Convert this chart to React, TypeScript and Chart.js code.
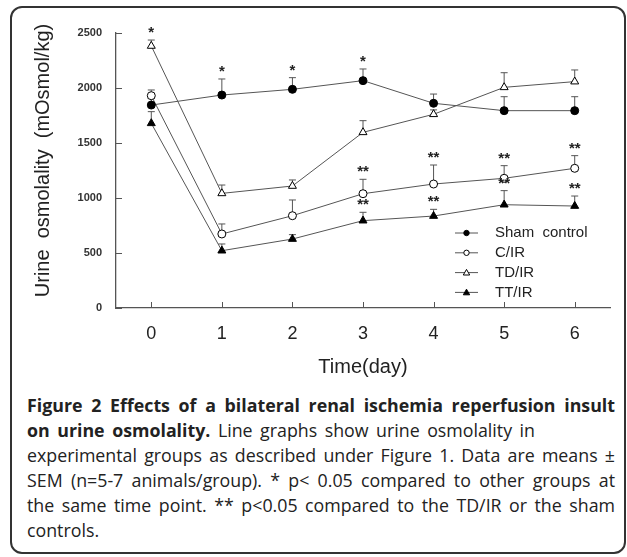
import React, { useEffect, useRef } from 'react';
import { Chart, registerables } from 'chart.js';
Chart.register(...registerables);

// ---- data ----
const days = [0, 1, 2, 3, 4, 5, 6];
const yTicks = [0, 500, 1000, 1500, 2000, 2500];
const seriesNames = ['Sham  control', 'C/IR', 'TD/IR', 'TT/IR'];
const shamMean = [1845, 1936, 1988, 2067, 1861, 1794, 1794];
const shamSem = [60, 146, 106, 106, 84, 127, 127];
const cirMean = [1930, 673, 839, 1039, 1127, 1179, 1270];
const cirSem = [52, 91, 143, 131, 173, 115, 115];
const tdirMean = [2382, 1042, 1109, 1597, 1761, 2006, 2058];
const tdirSem = [54, 76, 55, 106, 40, 133, 106];
const ttirMean = [1679, 521, 627, 794, 836, 939, 927];
const ttirSem = [106, 61, 40, 76, 61, 128, 91];
// significance marks: day, series index, mark
const starDays = [0, 1, 2, 3, 3, 3, 4, 4, 5, 5, 6, 6];
const starSeries = [2, 0, 0, 0, 1, 3, 1, 3, 1, 3, 1, 3];
const starMarks = ['*', '*', '*', '*', '**', '**', '**', '**', '**', '**', '**', '**'];

const yTitle = 'Urine  osmolality  (mOsmol/kg)';
const xTitle = 'Time(day)';

const means = [shamMean, cirMean, tdirMean, ttirMean];
const sems = [shamSem, cirSem, tdirSem, ttirSem];
const pointStyles = ['circle', 'circle', 'triangle', 'triangle'];
const pointFills = ['#000', '#fff', '#fff', '#000'];

const FONT = '"Liberation Sans", Arial, sans-serif';
const LINE = '#555';

const extras = {
  id: 'extras',
  beforeDatasetsDraw(chart: any) {
    const ctx = chart.ctx;
    const ys = chart.scales.y;
    ctx.save();
    ctx.strokeStyle = LINE;
    ctx.lineWidth = 1;
    chart.data.datasets.forEach((ds: any, i: number) => {
      const meta = chart.getDatasetMeta(i);
      meta.data.forEach((pt: any, j: number) => {
        const top = ys.getPixelForValue(means[i][j] + sems[i][j]);
        ctx.beginPath();
        ctx.moveTo(pt.x, pt.y);
        ctx.lineTo(pt.x, top);
        ctx.moveTo(pt.x - 3.5, top);
        ctx.lineTo(pt.x + 3.5, top);
        ctx.stroke();
      });
    });
    ctx.restore();
  },
  afterDatasetsDraw(chart: any) {
    const ctx = chart.ctx;
    const xs = chart.scales.x;
    const ys = chart.scales.y;
    const area = chart.chartArea;
    ctx.save();
    // inward ticks
    ctx.strokeStyle = LINE;
    ctx.lineWidth = 1;
    ctx.beginPath();
    yTicks.forEach((v) => {
      const y = Math.round(ys.getPixelForValue(v)) + 0.5;
      ctx.moveTo(area.left, y);
      ctx.lineTo(area.left + 6, y);
    });
    days.forEach((d) => {
      const x = Math.round(xs.getPixelForValue(d)) + 0.5;
      ctx.moveTo(x, area.bottom);
      ctx.lineTo(x, area.bottom - 6);
    });
    ctx.stroke();

    // stars
    ctx.fillStyle = '#222';
    ctx.font = 'bold 15px ' + FONT;
    ctx.textAlign = 'center';
    ctx.textBaseline = 'alphabetic';
    starDays.forEach((d, k) => {
      const s = starSeries[k];
      const j = days.indexOf(d);
      const top = ys.getPixelForValue(means[s][j] + sems[s][j]);
      ctx.fillText(starMarks[k], xs.getPixelForValue(d), top - 3);
    });

    // legend
    const lx = area.right - 155;
    const ly = area.bottom - 75;
    chart.data.datasets.forEach((ds: any, i: number) => {
      const y = ly + i * 19.8;
      ctx.strokeStyle = LINE;
      ctx.lineWidth = 1;
      ctx.beginPath();
      ctx.moveTo(lx, y);
      ctx.lineTo(lx + 23, y);
      ctx.stroke();
      const cx = lx + 11.5;
      ctx.fillStyle = pointFills[i];
      ctx.strokeStyle = '#000';
      ctx.beginPath();
      if (pointStyles[i] === 'circle') {
        ctx.arc(cx, y, 2.7, 0, Math.PI * 2);
      } else {
        ctx.moveTo(cx, y - 3.2);
        ctx.lineTo(cx + 3.2, y + 2.4);
        ctx.lineTo(cx - 3.2, y + 2.4);
        ctx.closePath();
      }
      ctx.fill();
      ctx.stroke();
      ctx.fillStyle = '#222';
      ctx.font = '15px ' + FONT;
      ctx.textAlign = 'left';
      ctx.textBaseline = 'middle';
      ctx.fillText(ds.label, lx + 40, y);
    });

    // y title
    ctx.fillStyle = '#222';
    ctx.font = '20px ' + FONT;
    ctx.textAlign = 'center';
    ctx.textBaseline = 'middle';
    ctx.translate(43, (area.top + area.bottom) / 2 - 10);
    ctx.rotate(-Math.PI / 2);
    ctx.fillText(yTitle, 0, 0);
    ctx.restore();
  },
};

function ChartCanvas() {
  const ref = useRef<HTMLCanvasElement>(null);
  useEffect(() => {
    if (!ref.current) return;
    const chart = new Chart(ref.current, {
      type: 'line',
      data: {
        datasets: seriesNames.map((name, i) => ({
          label: name,
          data: days.map((d, j) => ({ x: d, y: means[i][j] })),
          borderColor: LINE,
          borderWidth: 1,
          pointStyle: pointStyles[i] as any,
          pointRadius: pointStyles[i] === 'circle' ? 4 : 4.6,
          pointBackgroundColor: pointFills[i],
          pointBorderColor: '#000',
          pointBorderWidth: 1,
          tension: 0,
          fill: false,
        })),
      },
      options: {
        animation: false,
        responsive: false,
        maintainAspectRatio: false,
        layout: { padding: { left: 0, top: 33, right: 17, bottom: 0 } },
        plugins: {
          legend: { display: false },
          tooltip: { enabled: false },
        },
        scales: {
          x: {
            type: 'linear',
            min: -0.5,
            max: 6.5,
            afterBuildTicks: (s: any) => {
              s.ticks = days.map((d) => ({ value: d }));
            },
            afterFit: (s: any) => {
              s.height = 84;
            },
            grid: { display: false, drawTicks: false },
            border: { display: true, color: LINE, width: 1.3 },
            ticks: {
              font: { family: FONT, size: 18 },
              color: '#222',
              padding: 15,
              maxRotation: 0,
              callback: (v: any) => String(v),
            },
            title: {
              display: true,
              text: xTitle,
              font: { family: FONT, size: 20 },
              color: '#222',
              padding: { top: 0, bottom: 13 },
            },
          },
          y: {
            type: 'linear',
            min: 0,
            max: 2500,
            afterBuildTicks: (s: any) => {
              s.ticks = yTicks.map((v) => ({ value: v }));
            },
            afterFit: (s: any) => {
              s.width = 116;
            },
            grid: { display: false, drawTicks: false },
            border: { display: true, color: LINE, width: 1.3 },
            ticks: {
              font: { family: FONT, size: 11, weight: 'bold' },
              color: '#333',
              padding: 14,
              callback: (v: any) => String(v),
            },
          },
        },
      },
      plugins: [extras],
    });
    return () => chart.destroy();
  }, []);
  return (
    <canvas
      ref={ref}
      width={627}
      height={392}
      style={{ position: 'absolute', left: 0, top: 0, width: 627, height: 392 }}
    />
  );
}

const capLine: React.CSSProperties = {
  whiteSpace: 'nowrap',
  height: 25,
  lineHeight: '25px',
};
const justify: React.CSSProperties = { ...capLine, textAlign: 'justify', textAlignLast: 'justify' } as any;

export default function App() {
  return (
    <div
      style={{
        position: 'absolute',
        left: 0,
        top: 0,
        width: 627,
        height: 557,
        background: '#fff',
        overflow: 'hidden',
      }}
    >
      <div
        style={{
          position: 'absolute',
          left: 10,
          top: 6,
          width: 616,
          height: 548,
          boxSizing: 'border-box',
          border: '2px solid #333',
          borderRadius: 12,
        }}
      />
      <ChartCanvas />
      <div
        style={{
          position: 'absolute',
          left: 27,
          top: 393,
          width: 588,
          fontFamily: '"Open Sans", sans-serif',
          fontSize: 17.8,
          color: '#222',
        }}
      >
        <div style={justify}>
          <b>Figure 2 Effects of a bilateral renal ischemia reperfusion insult</b>
        </div>
        <div style={{ ...justify, width: 508 }}>
          <b>on urine osmolality.</b> Line graphs show urine osmolality in
        </div>
        <div style={justify}>experimental groups as described under Figure 1. Data are means ±</div>
        <div style={justify}>SEM (n=5-7 animals/group). * p&lt; 0.05 compared to other groups at</div>
        <div style={justify}>the same time point. ** p&lt;0.05 compared to the TD/IR or the sham</div>
        <div style={capLine}>controls.</div>
      </div>
    </div>
  );
}
